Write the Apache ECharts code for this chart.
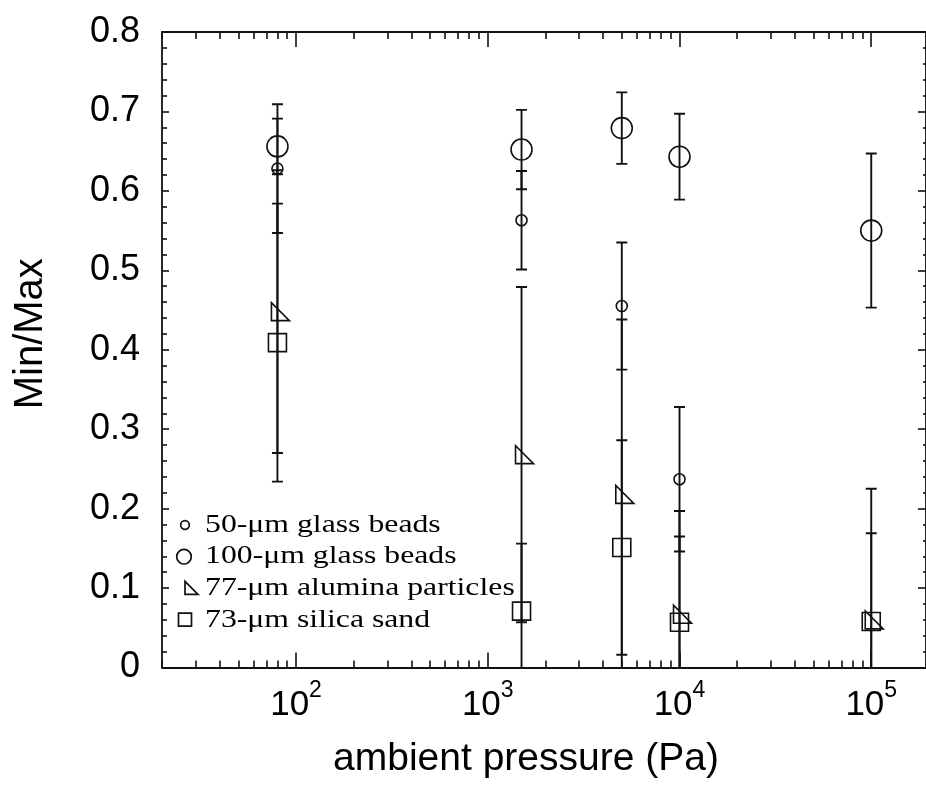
<!DOCTYPE html>
<html>
<head>
<meta charset="utf-8">
<script src="https://cdn.jsdelivr.net/npm/echarts@6/dist/echarts.min.js"></script>
<style>
  html, body { margin: 0; padding: 0; background: #fff; }
  #chart { width: 926px; height: 785px; }
</style>
</head>
<body>
<div id="chart"></div>
<script>
// Ambient pressure (Pa) at which each material was tested
const pressure = [80, 1500, 5000, 10000, 100000];

// Min/Max ratio and its error half-width for each material
const beads50 = [0.628, 0.563, 0.455, 0.237, null];
const beads50Err = [0.081, 0.062, 0.080, 0.091, null];
const beads100 = [0.656, 0.652, 0.679, 0.643, 0.550];
const beads100Err = [0.035, 0.050, 0.045, 0.054, 0.097];
const alumina = [0.448, 0.268, 0.218, 0.067, 0.060];
const aluminaErr = [0.178, 0.211, 0.220, 0.130, 0.165];
const silica = [0.409, 0.071, 0.151, 0.057, 0.058];
const silicaErr = [0.175, 0.085, 0.135, 0.108, 0.111];

const seriesNames = ['50-μm glass beads', '100-μm glass beads', '77-μm alumina particles', '73-μm silica sand'];

// Log-axis tick positions
const decadeTicks = [100, 1000, 10000, 100000];
const minorTicks = [];
[10, 100, 1000, 10000, 100000].forEach(function (d) {
  for (let k = 2; k <= 9; k++) minorTicks.push(k * d);
});

const INK = '#111';
const SANS = 'Liberation Sans';
const SERIF = 'Liberation Serif';
const TRIANGLE = 'path://M0,0L0,10L10,10Z';

const chart = echarts.init(document.getElementById('chart'), null, { renderer: 'canvas' });

// Vertical error bar with end caps, clipped at the bottom of the plot
function renderErrorBar(params, api) {
  const cs = params.coordSys;
  const x = api.value(0), y = api.value(1), e = api.value(2);
  const hi = api.coord([x, y + e]);
  const lo = api.coord([x, y - e]);
  const bottom = cs.y + cs.height;
  const cap = 5.5;
  const style = { stroke: INK, lineWidth: 1.9, fill: null };
  const children = [
    { type: 'line', shape: { x1: hi[0], y1: hi[1], x2: hi[0], y2: Math.min(lo[1], bottom) }, style: style },
    { type: 'line', shape: { x1: hi[0] - cap, y1: hi[1], x2: hi[0] + cap, y2: hi[1] }, style: style }
  ];
  if (lo[1] <= bottom) {
    children.push({ type: 'line', shape: { x1: lo[0] - cap, y1: lo[1], x2: lo[0] + cap, y2: lo[1] }, style: style });
  }
  return { type: 'group', children: children };
}

function rows(values, errs) {
  const out = [];
  pressure.forEach(function (p, i) {
    if (values[i] != null) out.push(errs ? [p, values[i], errs[i]] : [p, values[i]]);
  });
  return out;
}

function errorSeries(name, values, errs) {
  return {
    type: 'custom', name: name, xAxisIndex: 0, yAxisIndex: 0,
    data: rows(values, errs), renderItem: renderErrorBar,
    encode: { x: 0, y: 1 }, z: 2, silent: true, clip: true
  };
}

function markerSeries(name, values, symbol, size, offset) {
  return {
    type: 'scatter', name: name, xAxisIndex: 0, yAxisIndex: 0,
    data: rows(values), symbol: symbol, symbolSize: size, symbolOffset: offset || [0, 0],
    itemStyle: { color: 'rgba(0,0,0,0)', borderColor: INK, borderWidth: 1.6, opacity: 1 },
    z: 3, silent: true
  };
}

const xCommon = {
  type: 'log', logBase: 10, min: 20, max: 193000, gridIndex: 0,
  splitLine: { show: false },
  axisLine: { onZero: false, lineStyle: { color: INK, width: 1.8 } }
};
const tickLine = { color: INK, width: 1.6 };

const yCommon = {
  type: 'value', min: 0, max: 0.8, interval: 0.1, gridIndex: 0,
  splitLine: { show: false },
  axisLine: { onZero: false, lineStyle: { color: INK, width: 1.8 } }
};

// Legend block in the lower-left corner of the plot
const legendX = 205, legendY0 = 525, legendStep = 31.7;
const legendGraphics = [];
seriesNames.forEach(function (label, i) {
  legendGraphics.push({
    type: 'text', x: legendX, y: legendY0 + i * legendStep, scaleX: 1.27, scaleY: 1,
    style: { text: label, font: '25px "' + SERIF + '"', fill: '#000', align: 'left', verticalAlign: 'middle', textAlign: 'left', textVerticalAlign: 'middle' },
    silent: true, z: 10
  });
});
const legendStroke = { stroke: INK, lineWidth: 1.7, fill: null };
legendGraphics.push(
  { type: 'circle', shape: { cx: 185, cy: legendY0, r: 4.3 }, style: legendStroke, silent: true, z: 10 },
  { type: 'circle', shape: { cx: 184, cy: legendY0 + legendStep, r: 7.3 }, style: legendStroke, silent: true, z: 10 },
  { type: 'polygon', shape: { points: [[185, legendY0 + 2 * legendStep - 7], [185, legendY0 + 2 * legendStep + 6], [198, legendY0 + 2 * legendStep + 6]] }, style: legendStroke, silent: true, z: 10 },
  { type: 'rect', shape: { x: 178.5, y: legendY0 + 3 * legendStep - 7, width: 13, height: 13 }, style: legendStroke, silent: true, z: 10 }
);

chart.setOption({
  animation: false,
  backgroundColor: '#fff',
  grid: { left: 162, top: 32, width: 767, height: 635.5, containLabel: false },
  xAxis: [
    Object.assign({}, xCommon, {
      position: 'bottom',
      axisTick: { inside: true, length: 15, customValues: decadeTicks, lineStyle: tickLine },
      axisLabel: {
        customValues: decadeTicks, margin: 12,
        formatter: function (v) { return '{b|10}{s|' + Math.round(Math.log10(v)) + '}'; },
        rich: {
          b: { fontSize: 35, fontFamily: SANS, color: '#000', padding: [8, 0, 0, 0] },
          s: { fontSize: 23, fontFamily: SANS, color: '#000', verticalAlign: 'top' }
        }
      },
      name: 'ambient pressure (Pa)', nameLocation: 'middle', nameGap: 72,
      nameTextStyle: { fontSize: 39, fontFamily: SANS, color: '#000', padding: [0, 36, 0, 0] }
    }),
    Object.assign({}, xCommon, {
      position: 'bottom', axisLine: { show: false, onZero: false },
      axisTick: { inside: true, length: 7, customValues: minorTicks, lineStyle: tickLine },
      axisLabel: { show: false }
    }),
    Object.assign({}, xCommon, {
      position: 'top',
      axisTick: { inside: true, length: 15, customValues: decadeTicks, lineStyle: tickLine },
      axisLabel: { show: false }
    }),
    Object.assign({}, xCommon, {
      position: 'top', axisLine: { show: false, onZero: false },
      axisTick: { inside: true, length: 7, customValues: minorTicks, lineStyle: tickLine },
      axisLabel: { show: false }
    })
  ],
  yAxis: [
    Object.assign({}, yCommon, {
      position: 'left',
      axisTick: { inside: true, length: 7, lineStyle: tickLine },
      minorTick: { show: true, splitNumber: 5, length: 5, lineStyle: tickLine },
      axisLabel: { fontSize: 36, fontFamily: SANS, color: '#000', margin: 22 },
      name: 'Min/Max', nameLocation: 'middle', nameRotate: 90, nameGap: 111,
      nameTextStyle: { fontSize: 40, fontFamily: SANS, color: '#000', padding: [0, 0, 0, 32] }
    }),
    Object.assign({}, yCommon, {
      position: 'right',
      axisTick: { inside: true, length: 8, lineStyle: tickLine },
      minorTick: { show: true, splitNumber: 5, length: 3, lineStyle: tickLine },
      axisLabel: { show: false }
    })
  ],
  graphic: legendGraphics,
  series: [
    errorSeries(seriesNames[0], beads50, beads50Err),
    errorSeries(seriesNames[1], beads100, beads100Err),
    errorSeries(seriesNames[2], alumina, aluminaErr),
    errorSeries(seriesNames[3], silica, silicaErr),
    markerSeries(seriesNames[0], beads50, 'circle', 11),
    markerSeries(seriesNames[1], beads100, 'circle', 21),
    markerSeries(seriesNames[2], alumina, TRIANGLE, [18, 18], [3, 0]),
    markerSeries(seriesNames[3], silica, 'rect', [18, 18])
  ]
});
</script>
</body>
</html>
